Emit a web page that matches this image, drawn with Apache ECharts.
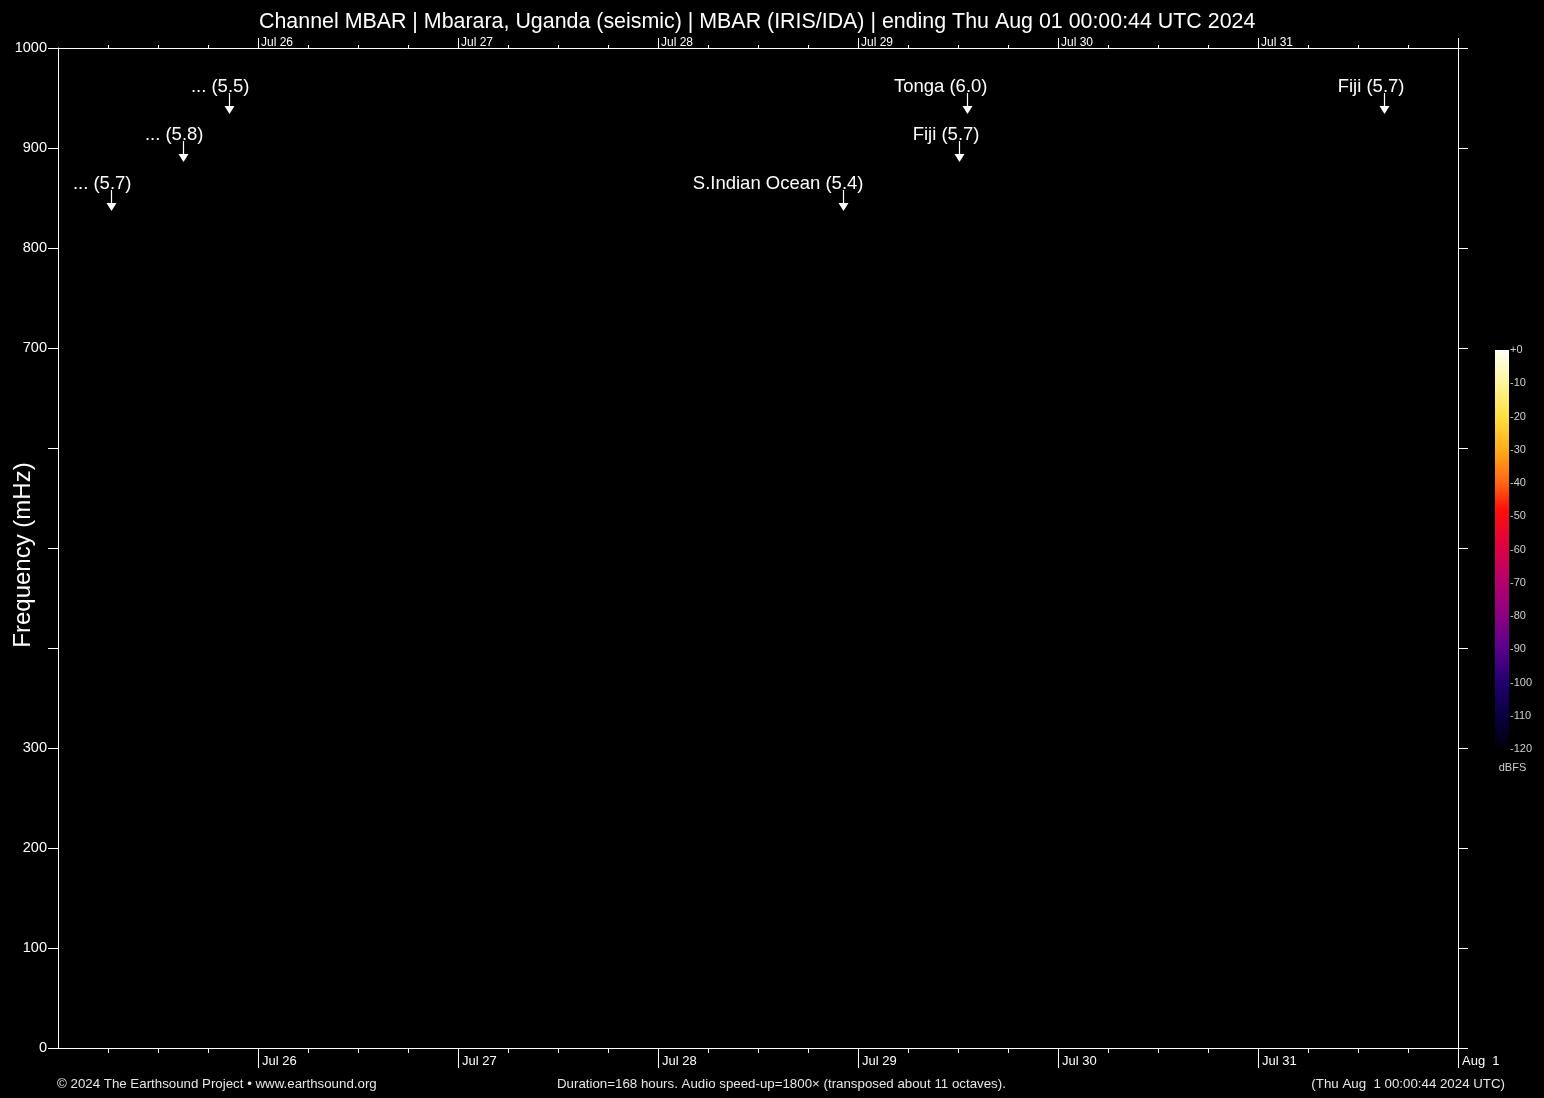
<!DOCTYPE html>
<html><head><meta charset="utf-8">
<script src="https://cdn.jsdelivr.net/npm/echarts@6/dist/echarts.min.js"></script>
<style>html,body{margin:0;padding:0;background:#000;}#c{width:1544px;height:1098px;}</style>
</head><body><div id="c"></div>
<script>
// ---------- data ----------
const titleText = 'Channel MBAR | Mbarara, Uganda (seismic) | MBAR (IRIS/IDA) | ending Thu Aug 01 00:00:44 UTC 2024';
const footerLeft = '© 2024 The Earthsound Project • www.earthsound.org';
const footerMid = 'Duration=168 hours. Audio speed-up=1800× (transposed about 11 octaves).';
const footerRight = '(Thu Aug  1 00:00:44 2024 UTC)';
const yAxisName = 'Frequency (mHz)';
const colorbarName = 'dBFS';

const startTime = '2024-07-25T00:00:00Z';
const endTime = '2024-08-01T00:00:00Z';
const dayTickTimes = ['2024-07-26T00:00:00Z','2024-07-27T00:00:00Z','2024-07-28T00:00:00Z','2024-07-29T00:00:00Z','2024-07-30T00:00:00Z','2024-07-31T00:00:00Z','2024-08-01T00:00:00Z'];
const dayTickLabels = ['Jul 26','Jul 27','Jul 28','Jul 29','Jul 30','Jul 31','Aug  1'];
const topDayTickLabels = ['Jul 26','Jul 27','Jul 28','Jul 29','Jul 30','Jul 31'];

const freqMin = 0, freqMax = 1000, freqStep = 100;
const freqLabeledTicks = [0, 100, 200, 300, 700, 800, 900, 1000];

const eventTimes = ['2024-07-25T06:22:00Z','2024-07-25T15:02:00Z','2024-07-25T20:33:00Z','2024-07-28T22:10:00Z','2024-07-29T12:07:00Z','2024-07-29T13:03:00Z','2024-07-31T15:09:00Z'];
const eventFreqs = [837, 886, 934, 837, 886, 934, 934];
const eventLabels = ['... (5.7)','... (5.8)','... (5.5)','S.Indian Ocean (5.4)','Fiji (5.7)','Tonga (6.0)','Fiji (5.7)'];

const dbTicks = [0,-10,-20,-30,-40,-50,-60,-70,-80,-90,-100,-110,-120];
const dbTickLabels = ['+0','-10','-20','-30','-40','-50','-60','-70','-80','-90','-100','-110','-120'];

// ---------- chart ----------
const DAY = 86400000;
const T0 = Date.parse(startTime), T1 = Date.parse(endTime);
const dayVals = dayTickTimes.map(Date.parse);
const FONT = '"Liberation Sans", Arial, Helvetica, sans-serif';

const eventData = eventTimes.map((t, i) => [Date.parse(t), eventFreqs[i]]);

const chart = echarts.init(document.getElementById('c'), null, {renderer: 'canvas'});
const white = '#ffffff';
const footColor = '#e6e6e6';

const option = {
  backgroundColor: '#000000',
  animation: false,
  textStyle: {fontFamily: FONT},
  title: [
    {text: titleText, left: 259, top: 12, padding: 0, textStyle: {color: white, fontSize: 21.4, fontWeight: 'normal', fontFamily: FONT}},
    {text: footerLeft, left: 57, top: 1078, padding: 0, textStyle: {color: footColor, fontSize: 13.3, fontWeight: 'normal', fontFamily: FONT}},
    {text: footerMid, left: 557, top: 1078, padding: 0, textStyle: {color: footColor, fontSize: 13.3, fontWeight: 'normal', fontFamily: FONT}},
    {text: footerRight, right: 39, top: 1078, padding: 0, textStyle: {color: footColor, fontSize: 13.3, fontWeight: 'normal', fontFamily: FONT}}
  ],
  grid: [
    {left: 58, right: 86, top: 48, bottom: 50, containLabel: false, outerBoundsMode: 'none'},
    {left: 1495, top: 350, width: 14, height: 399, containLabel: false, outerBoundsMode: 'none'}
  ],
  xAxis: [
    {
      gridIndex: 0, type: 'value', position: 'bottom', min: T0, max: T1, interval: DAY,
      axisLine: {show: true, onZero: false, lineStyle: {color: white, width: 1}},
      axisTick: {show: true, length: 20, customValues: dayVals, lineStyle: {color: white}},
      minorTick: {show: true, splitNumber: 4, length: 5, lineStyle: {color: white}},
      splitLine: {show: false}, minorSplitLine: {show: false},
      axisLabel: {
        show: true, customValues: dayVals, color: white, fontSize: 13, fontFamily: FONT,
        align: 'left', margin: 7, padding: [0, 0, 0, 4], hideOverlap: false,
        formatter: v => dayTickLabels[dayVals.indexOf(v)] || ''
      }
    },
    {
      gridIndex: 0, type: 'value', position: 'top', min: T0, max: T1, interval: DAY,
      axisLine: {show: true, onZero: false, lineStyle: {color: white, width: 1}},
      axisTick: {show: true, length: 10, customValues: dayVals, lineStyle: {color: white}},
      minorTick: {show: true, splitNumber: 4, length: 3, lineStyle: {color: white}},
      splitLine: {show: false},
      axisLabel: {
        show: true, customValues: dayVals.slice(0, 6), color: white, fontSize: 12, fontFamily: FONT,
        align: 'left', verticalAlign: 'middle', margin: 5, padding: [0, 0, 0, 3], hideOverlap: false,
        formatter: v => topDayTickLabels[dayVals.indexOf(v)] || ''
      }
    },
    {gridIndex: 1, type: 'value', min: 0, max: 1, show: false}
  ],
  yAxis: [
    {
      gridIndex: 0, type: 'value', position: 'left', min: freqMin, max: freqMax, interval: freqStep,
      name: yAxisName, nameLocation: 'middle', nameGap: 23, nameRotate: 90, nameMoveOverlap: false,
      nameTextStyle: {color: white, fontSize: 24, fontFamily: FONT, padding: [0, 14, 0, 0]},
      axisLine: {show: true, onZero: false, lineStyle: {color: white}},
      axisTick: {show: true, length: 10, lineStyle: {color: white}},
      splitLine: {show: false},
      axisLabel: {
        color: white, fontSize: 14.5, fontFamily: FONT, margin: 11,
        formatter: v => freqLabeledTicks.indexOf(v) >= 0 ? String(v) : ''
      }
    },
    {
      gridIndex: 0, type: 'value', position: 'right', min: freqMin, max: freqMax, interval: freqStep,
      axisLine: {show: true, onZero: false, lineStyle: {color: white}},
      axisTick: {show: true, length: 10, lineStyle: {color: white}},
      splitLine: {show: false},
      axisLabel: {show: false}
    },
    {
      gridIndex: 1, type: 'value', position: 'right', min: dbTicks[dbTicks.length - 1], max: dbTicks[0], interval: 10,
      name: colorbarName, nameLocation: 'start', nameGap: 13,
      nameTextStyle: {color: '#d0d0d0', fontSize: 11, fontFamily: FONT, padding: [0, 0, 0, 35]},
      axisLine: {show: false}, axisTick: {show: false}, splitLine: {show: false},
      axisLabel: {
        color: '#d0d0d0', fontSize: 11, fontFamily: FONT, margin: 1,
        formatter: v => dbTickLabels[dbTicks.indexOf(v)] || ''
      }
    }
  ],
  series: [
    {
      type: 'custom', xAxisIndex: 0, yAxisIndex: 0, data: eventData, clip: false, silent: true,
      renderItem: function (params, api) {
        const p = api.coord([api.value(0), api.value(1)]);
        const x = Math.round(p[0]) + 0.5, y = Math.round(p[1]);
        return {
          type: 'group',
          children: [
            {type: 'line', shape: {x1: x, y1: y - 21, x2: x, y2: y - 8}, style: {stroke: white, lineWidth: 1.2}},
            {type: 'polygon', shape: {points: [[x - 5, y - 8], [x + 5, y - 8], [x, y]]}, style: {fill: white}},
            {type: 'text', x: x + 20, y: y - 27, style: {text: eventLabels[params.dataIndex], fill: white, font: '18.5px ' + FONT, align: 'right', verticalAlign: 'middle'}}
          ]
        };
      }
    },
    {
      type: 'custom', xAxisIndex: 2, yAxisIndex: 2, data: [[0, 0]], silent: true,
      renderItem: function (params, api) {
        const a = api.coord([0, dbTicks[0]]);
        const b = api.coord([1, dbTicks[dbTicks.length - 1]]);
        return {
          type: 'rect',
          shape: {x: a[0], y: a[1], width: b[0] - a[0], height: b[1] - a[1]},
          style: {
            fill: new echarts.graphic.LinearGradient(0, 0, 0, 1, [
              {offset: 0.0, color: '#fffff6'},
              {offset: 0.083, color: '#fff59a'},
              {offset: 0.167, color: '#ffe040'},
              {offset: 0.25, color: '#ffac18'},
              {offset: 0.333, color: '#ff6414'},
              {offset: 0.40, color: '#ff1008'},
              {offset: 0.5, color: '#dc0046'},
              {offset: 0.583, color: '#b4006e'},
              {offset: 0.667, color: '#8a0082'},
              {offset: 0.75, color: '#5a008e'},
              {offset: 0.833, color: '#220070'},
              {offset: 0.917, color: '#080040'},
              {offset: 1.0, color: '#000008'}
            ])
          }
        };
      }
    }
  ]
};
chart.setOption(option);
</script>
</body></html>
